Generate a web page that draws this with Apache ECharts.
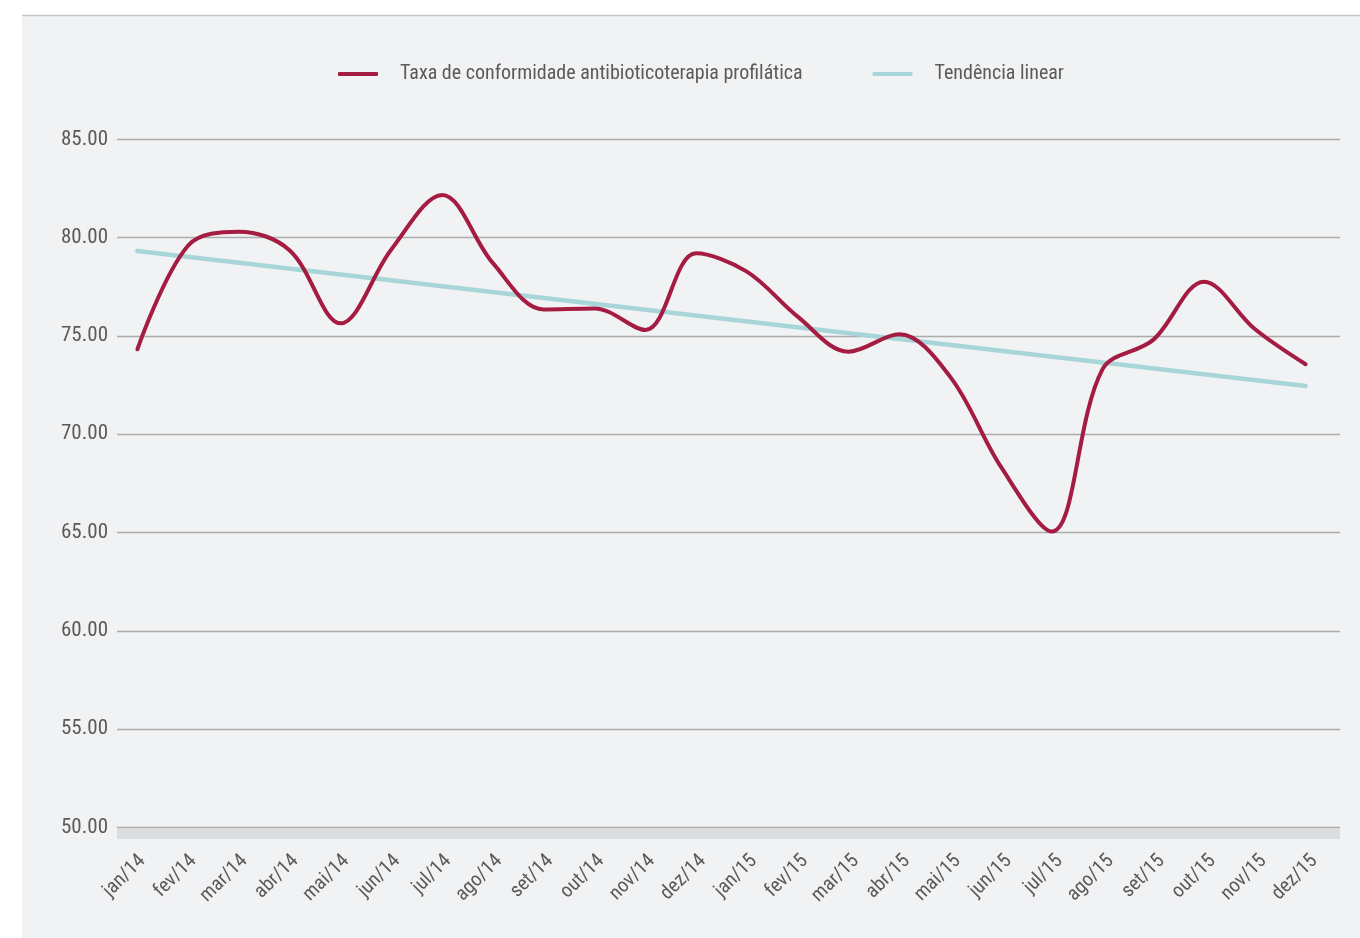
<!DOCTYPE html>
<html>
<head>
<meta charset="utf-8">
<script src="https://cdn.jsdelivr.net/npm/echarts@6/dist/echarts.min.js"></script>
<style>
html,body{margin:0;padding:0;background:#ffffff;}
#chart{width:1360px;height:938px;}
</style>
</head>
<body>
<div id="chart"></div>
<script>
const categories = ['jan/14','fev/14','mar/14','abr/14','mai/14','jun/14','jul/14','ago/14','set/14','out/14','nov/14','dez/14',
  'jan/15','fev/15','mar/15','abr/15','mai/15','jun/15','jul/15','ago/15','set/15','out/15','nov/15','dez/15'];
const taxaValues = [74.32, 79.6, 80.3, 79.35, 75.64, 79.4, 82.17, 78.7, 76.35, 76.4, 75.3, 79.2,
  78.27, 75.98, 74.2, 75.08, 72.93, 68.35, 65.05, 73.3, 74.8, 77.76, 75.35, 73.56];
// linear trend: only its two end values are read; the line joins them
const trendValues = [79.32, null, null, null, null, null, null, null, null, null, null, null,
  null, null, null, null, null, null, null, null, null, null, null, 72.45];
const yTicks = {min: 50, max: 85, interval: 5};
const seriesNames = ['Taxa de conformidade antibioticoterapia profilática', 'Tendência linear'];

const FONT = '"Roboto Condensed", Roboto, sans-serif';
const TXT = '#5a5a5a';

const chart = echarts.init(document.getElementById('chart'), null, {renderer: 'canvas'});
chart.setOption({
  backgroundColor: '#ffffff',
  animation: false,
  graphic: [
    {type: 'rect', z: -10, shape: {x: 22, y: 16, width: 1338, height: 922}, style: {fill: '#f1f2f4'}},
    {type: 'line', z: -9, shape: {x1: 22, y1: 15.5, x2: 1360, y2: 15.5}, style: {stroke: '#c6c6c6', lineWidth: 1.5}}
  ],
  legend: {
    left: 333, top: 59,
    itemWidth: 40, itemHeight: 4, itemGap: 70,
    icon: 'roundRect',
    textStyle: {fontFamily: FONT, fontSize: 20, color: TXT, padding: [0, 0, 0, 17]},
    data: seriesNames
  },
  grid: [
    {left: 117, right: 20, top: 139.3, bottom: 110.5},
    {left: 112, right: 29, top: 139.3, bottom: 110.5}
  ],
  xAxis: [
    {type: 'category', gridIndex: 0, data: categories, boundaryGap: true, offset: 5.5,
      axisLine: {show: true, lineStyle: {color: '#dcdddf', width: 11, cap: 'butt'}},
      axisTick: {show: false}, splitLine: {show: false},
      axisLabel: {rotate: 45, margin: 25, fontFamily: FONT, fontSize: 20, color: TXT, interval: 0}},
    {type: 'category', gridIndex: 1, data: categories, boundaryGap: true, show: false}
  ],
  yAxis: [
    {type: 'value', gridIndex: 0, min: yTicks.min, max: yTicks.max, interval: yTicks.interval,
      axisLine: {show: false}, axisTick: {show: false},
      axisLabel: {margin: 9, fontFamily: FONT, fontSize: 21, color: TXT, formatter: v => v.toFixed(2)},
      splitLine: {show: true, lineStyle: {color: '#acacac', width: 1.3}}},
    {type: 'value', gridIndex: 1, min: yTicks.min, max: yTicks.max, interval: yTicks.interval,
      axisLine: {show: false}, axisTick: {show: false}, axisLabel: {show: false}, splitLine: {show: false}}
  ],
  series: [
    {name: seriesNames[0], type: 'line', xAxisIndex: 1, yAxisIndex: 1, data: taxaValues,
      smooth: 0.35, showSymbol: false, symbol: 'none', z: 3,
      lineStyle: {color: '#a51c42', width: 4, cap: 'round', join: 'round'},
      itemStyle: {color: '#a51c42'}},
    {name: seriesNames[1], type: 'line', xAxisIndex: 1, yAxisIndex: 1, data: trendValues,
      connectNulls: true, showSymbol: false, symbol: 'none', z: 2,
      lineStyle: {color: '#a7d5d8', width: 4.5, cap: 'round'},
      itemStyle: {color: '#a7d5d8'}}
  ]
});
</script>
</body>
</html>
